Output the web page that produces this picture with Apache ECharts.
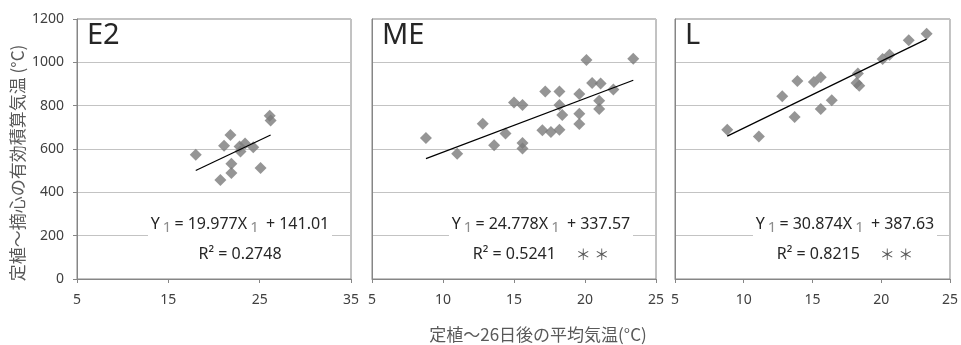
<!DOCTYPE html>
<html>
<head>
<meta charset="utf-8">
<script src="https://cdn.jsdelivr.net/npm/echarts@6/dist/echarts.min.js"></script>
<style>
  html, body { margin: 0; padding: 0; background: #fff; }
  #chart { width: 961px; height: 345px; }
</style>
</head>
<body>
<div id="chart"></div>
<script>
// Panel names
const panelNames = ['E2', 'ME', 'L'];

// Mean temperature 26 days after planting (x) vs effective accumulated temperature (y)
const e2X = [18.0, 21.1, 21.8, 20.7, 21.9, 21.9, 22.8, 22.9, 23.4, 24.3, 25.1, 26.1, 26.2];
const e2Y = [574, 615, 665, 457, 532, 489, 612, 589, 625, 608, 512, 754, 731];

const meX = [8.8, 11.0, 12.8, 13.6, 14.4, 15.0, 15.6, 15.6, 15.6, 17.0, 17.2, 17.6, 18.2,
             18.2, 18.2, 18.4, 19.6, 19.6, 19.6, 20.1, 20.5, 21.1, 21.0, 21.0, 22.0, 23.4];
const meY = [651, 578, 717, 617, 672, 815, 803, 628, 602, 686, 865, 678, 689,
             865, 803, 757, 854, 763, 715, 1011, 905, 902, 823, 785, 875, 1017];

const lX = [8.8, 11.1, 12.8, 13.7, 13.9, 15.1, 15.6, 15.6, 16.4, 18.3, 18.2, 18.4, 20.1, 20.6, 22.0, 23.3];
const lY = [689, 658, 843, 748, 914, 909, 931, 785, 825, 949, 905, 892, 1015, 1035, 1102, 1132];

// Regression results per panel
const slopes = [19.977, 24.778, 30.874];
const intercepts = [141.01, 337.57, 387.63];
const r2Values = ['0.2748', '0.5241', '0.8215'];
const significance = ['', '＊ ＊', '＊ ＊'];

// Axis ranges / tick steps
const xMins = [5, 5, 5];
const xMaxs = [35, 25, 25];
const xSteps = [10, 5, 5];
const yMin = 0, yMax = 1200, yStep = 200;

const yTitle = '定植～摘心の有効積算気温 (°C)';
const xTitle = '定植～26日後の平均気温(°C)';

const xsList = [e2X, meX, lX];
const ysList = [e2Y, meY, lY];

const FONT = '"Noto Sans", "Noto Sans CJK JP", sans-serif';
const CJK = '"Noto Sans CJK JP", "Noto Sans", sans-serif';
const AXIS = '#868686';
const GRIDLINE = '#c3c3c3';
const TEXT = '#404040';

// Plot-area placement of the three panels
const grids = [
  { left: 77, width: 274, top: 19, height: 260 },
  { left: 372, width: 284, top: 19, height: 260 },
  { left: 675, width: 279, top: 19, height: 260 }
];
// Horizontal centre of each equation box
const eqCenters = [240, 541, 845];

const chart = echarts.init(document.getElementById('chart'), null, { renderer: 'canvas' });

const xAxes = [], yAxes = [], series = [], graphics = [];

grids.forEach((g, i) => {
  xAxes.push({
    type: 'value', gridIndex: i, min: xMins[i], max: xMaxs[i], interval: xSteps[i],
    axisLine: { show: true, lineStyle: { color: AXIS, width: 1 } },
    axisTick: { show: true, length: 4, inside: false, lineStyle: { color: AXIS } },
    axisLabel: { color: TEXT, fontSize: 14, fontFamily: FONT, margin: 14, formatter: v => String(v) },
    splitLine: { show: false }
  });
  yAxes.push({
    type: 'value', gridIndex: i, min: yMin, max: yMax, interval: yStep,
    axisLine: { show: true, lineStyle: { color: AXIS, width: 1 } },
    axisTick: { show: i === 0, length: 4, lineStyle: { color: AXIS } },
    axisLabel: { show: i === 0, color: TEXT, fontSize: 14, fontFamily: FONT, margin: 13, formatter: v => String(v) },
    splitLine: { show: true, lineStyle: { color: GRIDLINE, width: 1 } }
  });

  const xs = xsList[i], ys = ysList[i];
  series.push({
    type: 'scatter', xAxisIndex: i, yAxisIndex: i,
    symbol: 'diamond', symbolSize: 12,
    itemStyle: { color: '#7a7a7a' },
    data: xs.map((x, k) => [x, ys[k]]),
    z: 3
  });

  // Least-squares line over the observed x range
  const x0 = Math.min(...xs), x1 = Math.max(...xs);
  series.push({
    type: 'line', xAxisIndex: i, yAxisIndex: i,
    symbol: 'none', silent: true,
    lineStyle: { color: '#000', width: 1.2 },
    data: [[x0, slopes[i] * x0 + intercepts[i]], [x1, slopes[i] * x1 + intercepts[i]]],
    z: 4
  });

  // Panel name
  graphics.push({
    type: 'text', left: g.left + 10, top: g.top + 2,
    style: { text: panelNames[i], fontSize: 29, fontFamily: FONT, fill: '#262626' }
  });

  // Equation box (white background covers the grid line behind it)
  const cx = eqCenters[i];
  graphics.push({
    type: 'rect', shape: { x: cx - 92, y: 208, width: 184, height: 58 },
    style: { fill: '#fff' }, z: 10
  });
  graphics.push({
    type: 'text', x: cx, y: 224, z: 11,
    style: {
      text: '{v|Y}{s|1}{v|= ' + slopes[i].toFixed(3) + 'X}{s|1}{v| + ' + intercepts[i].toFixed(2) + '}',
      align: 'center', verticalAlign: 'middle',
      rich: {
        v: { fontSize: 16, fontFamily: FONT, fill: '#262626' },
        s: { fontSize: 15, fontFamily: FONT, fill: '#8c8c8c', padding: [7, 3, 0, 3] }
      }
    }
  });
  graphics.push({
    type: 'text', x: cx, y: 254, z: 11,
    style: {
      text: '{v|R² = ' + r2Values[i] + '}' + (significance[i] ? '{a|' + significance[i] + '}' : ''),
      align: 'center', verticalAlign: 'middle',
      rich: {
        v: { fontSize: 16, fontFamily: FONT, fill: '#262626' },
        a: { fontSize: 15, fontFamily: CJK, fill: '#595959', padding: [0, 0, 0, 20] }
      }
    }
  });
});

// Axis titles
graphics.push({
  type: 'text', x: 18, y: 163, rotation: Math.PI / 2,
  style: { text: yTitle, fontSize: 17, fontFamily: CJK, fill: '#595959', align: 'center', verticalAlign: 'middle' }
});
graphics.push({
  type: 'text', x: 538, y: 335,
  style: { text: xTitle, fontSize: 17, fontFamily: CJK, fill: '#595959', align: 'center', verticalAlign: 'middle' }
});

chart.setOption({
  animation: false,
  backgroundColor: '#fff',
  grid: grids.map(g => Object.assign({ show: true, borderColor: AXIS, borderWidth: 1, backgroundColor: 'transparent' }, g)),
  xAxis: xAxes,
  yAxis: yAxes,
  series: series,
  graphic: graphics
});
</script>
</body>
</html>
